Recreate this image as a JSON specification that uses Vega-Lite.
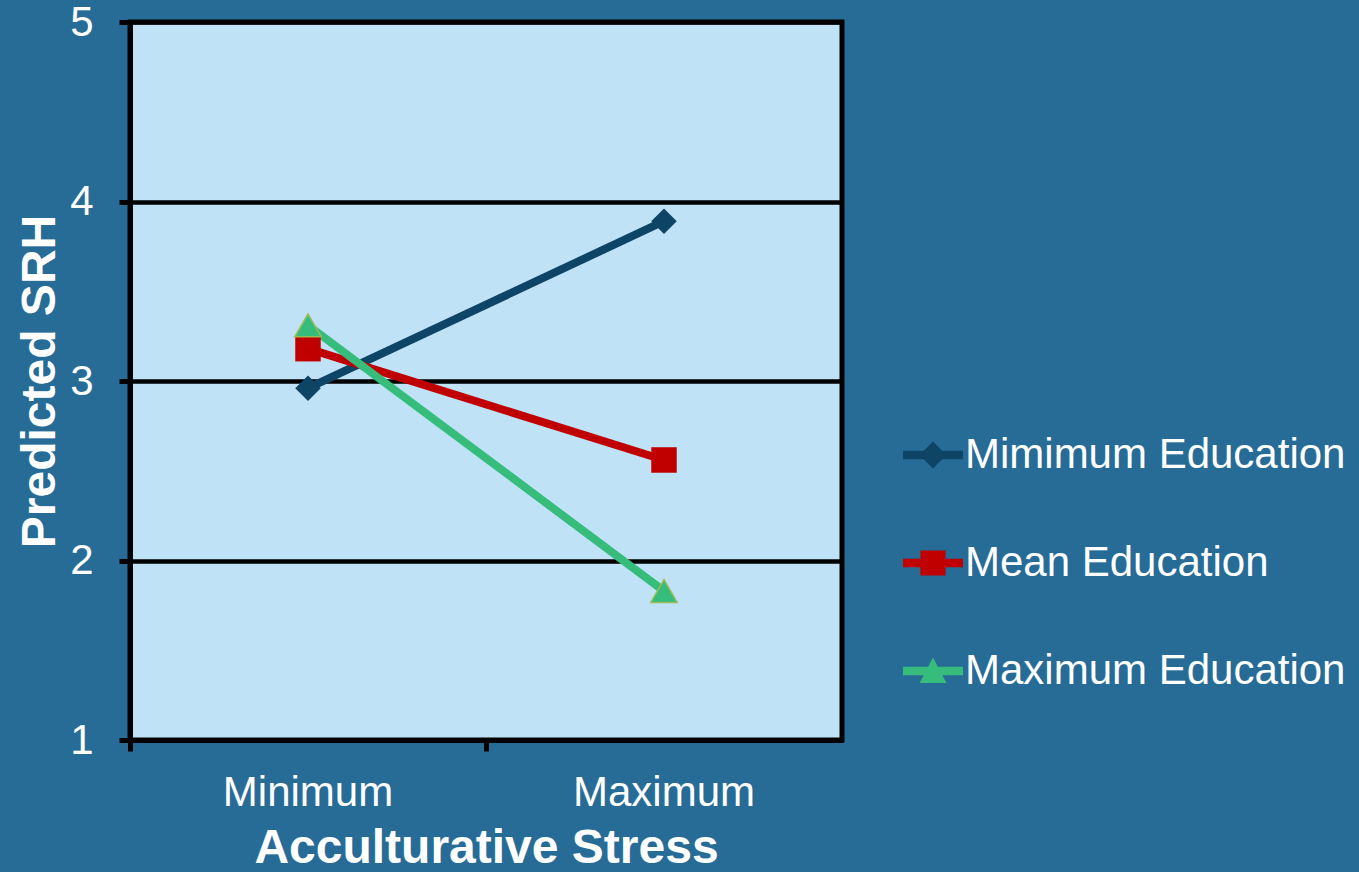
{
  "$schema": "https://vega.github.io/schema/vega-lite/v6.json",
  "autosize": {"type": "none"},
  "width": 712,
  "height": 718,
  "padding": {"left": 130, "top": 22, "right": 517, "bottom": 132},
  "background": "#276c97",
  "config": {
    "font": "Liberation Sans",
    "view": {"fill": "#bfe2f7", "stroke": "#000000", "strokeWidth": 5},
    "axis": {
      "domainColor": "#000000",
      "domainWidth": 5,
      "tickColor": "#000000",
      "tickWidth": 5,
      "tickSize": 11,
      "labelColor": "#ffffff",
      "labelFontSize": 42,
      "labelFont": "Liberation Sans",
      "labelLimit": 400,
      "titleColor": "#ffffff",
      "titleFontSize": 48,
      "titleFont": "Liberation Sans",
      "titleFontWeight": "bold"
    }
  },
  "data": {
    "values": [
      {"stress": "Minimum", "group": "Mimimum Education", "srh": 2.96},
      {"stress": "Maximum", "group": "Mimimum Education", "srh": 3.89},
      {"stress": "Minimum", "group": "Mean Education", "srh": 3.18},
      {"stress": "Maximum", "group": "Mean Education", "srh": 2.56},
      {"stress": "Minimum", "group": "Maximum Education", "srh": 3.31},
      {"stress": "Maximum", "group": "Maximum Education", "srh": 1.83}
    ]
  },
  "encoding": {
    "x": {
      "field": "stress",
      "type": "nominal",
      "sort": ["Minimum", "Maximum"],
      "scale": {"type": "band", "paddingInner": 0, "paddingOuter": 0},
      "axis": {
        "title": "Acculturative Stress",
        "labelAngle": 0,
        "labelPadding": 21,
        "titlePadding": 11,
        "bandPosition": 0,
        "grid": false
      }
    },
    "y": {
      "field": "srh",
      "type": "quantitative",
      "scale": {"domain": [1, 5], "nice": false},
      "axis": {
        "title": "Predicted SRH",
        "values": [1, 2, 3, 4, 5],
        "grid": true,
        "gridColor": "#000000",
        "gridWidth": 4.5,
        "gridOpacity": 1,
        "labelPadding": 26,
        "titlePadding": 5
      }
    }
  },
  "layer": [
    {
      "mark": {"type": "line", "strokeWidth": 8},
      "encoding": {
        "color": {
          "field": "group",
          "type": "nominal",
          "scale": {
            "domain": ["Mimimum Education", "Mean Education", "Maximum Education"],
            "range": ["#0e4466", "#c00000", "#36bd7b"]
          },
          "legend": {
            "title": null,
            "orient": "none",
            "legendX": 773,
            "legendY": 403,
            "labelColor": "#ffffff",
            "labelFontSize": 42,
            "labelFont": "Liberation Sans",
            "labelOffset": 2,
            "labelLimit": 600,
            "rowPadding": 57,
            "symbolSize": 3600,
            "encode": {
              "symbols": {
                "update": {
                  "shape": {"signal": "datum.value === 'Mimimum Education' ? 'M-1,-0.14L1,-0.14L1,0.14L-1,0.14Z M0,-0.45L0.45,0L0,0.45L-0.45,0Z' : datum.value === 'Mean Education' ? 'M-1,-0.14L1,-0.14L1,0.14L-1,0.14Z M-0.42,-0.42L0.42,-0.42L0.42,0.42L-0.42,0.42Z' : 'M-1,-0.14L1,-0.14L1,0.14L-1,0.14Z M0,-0.45L0.45,0.4L-0.45,0.4Z'"},
                  "fill": {"scale": "color", "field": "value"},
                  "fillOpacity": {"value": 1},
                  "stroke": {"value": "transparent"},
                  "strokeWidth": {"value": 0},
                  "size": {"value": 3600}
                }
              }
            }
          }
        }
      }
    },
    {
      "transform": [{"filter": "datum.group === 'Mimimum Education'"}],
      "mark": {"type": "point", "shape": "diamond", "filled": true, "opacity": 1, "size": 650, "color": "#0e4466"}
    },
    {
      "transform": [{"filter": "datum.group === 'Mean Education'"}],
      "mark": {"type": "point", "shape": "square", "filled": true, "opacity": 1, "size": 650, "color": "#c00000"}
    },
    {
      "transform": [{"filter": "datum.group === 'Maximum Education'"}],
      "mark": {"type": "point", "shape": "triangle-up", "filled": true, "opacity": 1, "size": 700, "fill": "#36bd7b", "stroke": "#9bbb59", "strokeWidth": 1.5}
    }
  ]
}
